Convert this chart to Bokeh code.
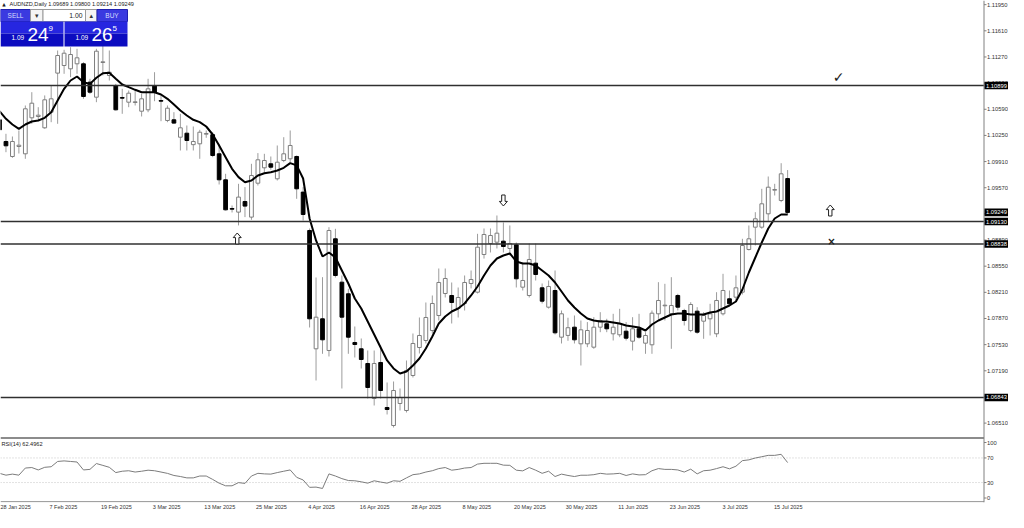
from bokeh.plotting import figure
from bokeh.models import Range1d, FixedTicker, ColumnDataSource
from bokeh.embed import file_html
from bokeh.resources import INLINE
from bokeh.core.properties import value

# ---------------- data ----------------
header_text = "AUDNZD,Daily 1.09689 1.09800 1.09214 1.09249"
rsi_title = "RSI(14) 62.4962"

date_labels = ["28 Jan 2025", "7 Feb 2025", "19 Feb 2025", "3 Mar 2025", "13 Mar 2025",
               "25 Mar 2025", "4 Apr 2025", "16 Apr 2025", "28 Apr 2025", "8 May 2025",
               "20 May 2025", "30 May 2025", "11 Jun 2025", "23 Jun 2025", "3 Jul 2025",
               "15 Jul 2025"]
date_label_bars = [0, 8, 16, 24, 32, 40, 48, 56, 64, 72, 80, 88, 96, 104, 112, 120]

opens = [1.10453, 1.10171, 1.09976, 1.10106, 1.10011, 1.10479, 1.10496, 1.10349, 1.10552, 1.11060,
         1.11159, 1.11116, 1.11181, 1.11181, 1.10942, 1.10747, 1.11198, 1.11029, 1.10899, 1.10743,
         1.10682, 1.10678, 1.10565, 1.10583, 1.10899, 1.10704, 1.10444, 1.10453, 1.10227, 1.10279,
         1.10130, 1.10141, 1.10266, 1.10260, 1.10011, 1.09673, 1.09300, 1.09253, 1.09391, 1.09188,
         1.09629, 1.09829, 1.09881, 1.09686, 1.09924, 1.09946, 1.09976, 1.09513, 1.09014, 1.07476,
         1.07866, 1.07454, 1.08906, 1.08342, 1.08191, 1.07558, 1.07476, 1.07285, 1.06830, 1.07298,
         1.06713, 1.06479, 1.06765, 1.06674, 1.07129, 1.07493, 1.07584, 1.07714, 1.07909, 1.08195,
         1.08169, 1.08000, 1.08065, 1.08325, 1.08212, 1.08702, 1.08845, 1.08862, 1.08875, 1.08780,
         1.08828, 1.08277, 1.08169, 1.08589, 1.08269, 1.08017, 1.08234, 1.07627, 1.07650, 1.07757,
         1.07541, 1.07541, 1.07497, 1.07757, 1.07801, 1.07671, 1.07658, 1.07705, 1.07575, 1.07736,
         1.07549, 1.07528, 1.07931, 1.08035, 1.07931, 1.08169, 1.07974, 1.07714, 1.07965, 1.07835,
         1.07866, 1.07671, 1.07931, 1.08126, 1.08147, 1.08212, 1.08767, 1.09057, 1.09057, 1.09231,
         1.09538, 1.09404, 1.09689]
highs = [1.10509, 1.10271, 1.10236, 1.10314, 1.10639, 1.10812, 1.10617, 1.10770, 1.10899, 1.11354,
         1.11363, 1.11397, 1.11376, 1.11202, 1.10986, 1.11376, 1.11419, 1.11354, 1.10920, 1.10856,
         1.10834, 1.10834, 1.10791, 1.10986, 1.11072, 1.10770, 1.10639, 1.10552, 1.10531, 1.10379,
         1.10366, 1.10323, 1.10314, 1.10290, 1.10141, 1.09751, 1.09339, 1.09621, 1.09578, 1.09881,
         1.10020, 1.10011, 1.09976, 1.10119, 1.10227, 1.10314, 1.09989, 1.09578, 1.09040, 1.08403,
         1.08407, 1.09057, 1.09036, 1.08429, 1.08256, 1.07766, 1.07610, 1.07454, 1.07454, 1.07519,
         1.07038, 1.07051, 1.06960, 1.07324, 1.07675, 1.07883, 1.08078, 1.08169, 1.08520, 1.08520,
         1.08338, 1.08273, 1.08429, 1.08494, 1.08971, 1.09040, 1.09040, 1.09209, 1.09118, 1.09079,
         1.08858, 1.08598, 1.08845, 1.08845, 1.08325, 1.08364, 1.08494, 1.07974, 1.07880, 1.07909,
         1.07844, 1.07823, 1.07887, 1.07952, 1.07866, 1.07931, 1.07996, 1.07823, 1.07887, 1.07931,
         1.07692, 1.07974, 1.08342, 1.08321, 1.08407, 1.08191, 1.07996, 1.08082, 1.08017, 1.07952,
         1.08061, 1.08212, 1.08451, 1.08234, 1.08429, 1.08906, 1.09079, 1.09252, 1.09556, 1.09716,
         1.09621, 1.09889, 1.09800]
lows = [1.10271, 1.10032, 1.09959, 1.10015, 1.09946, 1.10401, 1.10435, 1.10336, 1.10422, 1.10401,
        1.11051, 1.11007, 1.11051, 1.10726, 1.10790, 1.10682, 1.11029, 1.10964, 1.10574, 1.10531,
        1.10617, 1.10639, 1.10496, 1.10552, 1.10695, 1.10435, 1.10422, 1.10401, 1.10054, 1.10054,
        1.10054, 1.09946, 1.10219, 1.09967, 1.09612, 1.09274, 1.09248, 1.09080, 1.09188, 1.09153,
        1.09599, 1.09751, 1.09803, 1.09664, 1.09902, 1.09902, 1.09426, 1.09144, 1.07753, 1.07064,
        1.07411, 1.07376, 1.08403, 1.06960, 1.07411, 1.07363, 1.07220, 1.06830, 1.06739, 1.06830,
        1.06622, 1.06453, 1.06674, 1.06648, 1.07103, 1.07415, 1.07545, 1.07675, 1.07844, 1.08143,
        1.07805, 1.07883, 1.07974, 1.08261, 1.08195, 1.08649, 1.08728, 1.08780, 1.08728, 1.08689,
        1.08273, 1.08234, 1.08143, 1.08364, 1.08065, 1.07999, 1.07662, 1.07545, 1.07580, 1.07545,
        1.07259, 1.07497, 1.07476, 1.07692, 1.07692, 1.07584, 1.07627, 1.07584, 1.07454, 1.07606,
        1.07411, 1.07411, 1.07866, 1.07844, 1.07476, 1.07974, 1.07779, 1.07692, 1.07671, 1.07606,
        1.07649, 1.07627, 1.07909, 1.08039, 1.08104, 1.08182, 1.08754, 1.08819, 1.09036, 1.09135,
        1.09469, 1.09382, 1.09214]
closes = [1.10323, 1.10115, 1.10171, 1.10123, 1.10596, 1.10669, 1.10513, 1.10713, 1.10726, 1.11289,
          1.11319, 1.11302, 1.11259, 1.10756, 1.10812, 1.11345, 1.11207, 1.11072, 1.10583, 1.10734,
          1.10799, 1.10687, 1.10726, 1.10856, 1.10812, 1.10695, 1.10604, 1.10410, 1.10349, 1.10184,
          1.10171, 1.10292, 1.10275, 1.09989, 1.09673, 1.09283, 1.09291, 1.09448, 1.09331, 1.09729,
          1.09933, 1.09924, 1.09837, 1.09902, 1.10011, 1.10119, 1.09556, 1.09222, 1.07866, 1.07887,
          1.07593, 1.09014, 1.08429, 1.07887, 1.07627, 1.07532, 1.07337, 1.06973, 1.07285, 1.06934,
          1.06687, 1.06934, 1.06843, 1.07194, 1.07545, 1.07649, 1.07883, 1.08065, 1.08338, 1.08390,
          1.08078, 1.08143, 1.08338, 1.08377, 1.08797, 1.08962, 1.08949, 1.08979, 1.08806, 1.08845,
          1.08386, 1.08364, 1.08637, 1.08442, 1.08095, 1.08286, 1.07684, 1.07931, 1.07750, 1.07593,
          1.07723, 1.07714, 1.07757, 1.07844, 1.07736, 1.07757, 1.07801, 1.07614, 1.07736, 1.07627,
          1.07649, 1.07939, 1.08104, 1.08043, 1.08039, 1.08017, 1.07844, 1.08052, 1.07692, 1.07909,
          1.07931, 1.08104, 1.08234, 1.08061, 1.08269, 1.08819, 1.08906, 1.09166, 1.09361, 1.09577,
          1.09547, 1.09751, 1.09249]
ma_values = [1.10565, 1.10466, 1.10392, 1.10336, 1.10392, 1.10431, 1.10444, 1.10479, 1.10552, 1.10704,
             1.10856, 1.10964, 1.11016, 1.10942, 1.10920, 1.10999, 1.11059, 1.11064, 1.10986, 1.10912,
             1.10877, 1.10843, 1.10812, 1.10812, 1.10812, 1.10782, 1.10726, 1.10652, 1.10574, 1.10509,
             1.10453, 1.10423, 1.10366, 1.10262, 1.10119, 1.09967, 1.09816, 1.09708, 1.09642, 1.09664,
             1.09729, 1.09759, 1.09772, 1.09794, 1.09829, 1.09890, 1.09860, 1.09690, 1.09170, 1.08884,
             1.08676, 1.08728, 1.08663, 1.08494, 1.08325, 1.08130, 1.08000, 1.07831, 1.07662, 1.07493,
             1.07324, 1.07220, 1.07155, 1.07181, 1.07259, 1.07350, 1.07480, 1.07636, 1.07805, 1.07896,
             1.07961, 1.08000, 1.08065, 1.08169, 1.08286, 1.08429, 1.08559, 1.08650, 1.08689, 1.08715,
             1.08611, 1.08585, 1.08585, 1.08559, 1.08494, 1.08429, 1.08338, 1.08221, 1.08104, 1.08013,
             1.07935, 1.07870, 1.07844, 1.07831, 1.07831, 1.07818, 1.07805, 1.07779, 1.07766, 1.07753,
             1.07714, 1.07792, 1.07844, 1.07883, 1.07922, 1.07935, 1.07935, 1.07922, 1.07922, 1.07922,
             1.07948, 1.07961, 1.08000, 1.08039, 1.08091, 1.08247, 1.08468, 1.08663, 1.08858, 1.09040,
             1.09170, 1.09222, 1.09222]
rsi_values = [45.0, 42.0, 43.7, 42.0, 53.6, 54.4, 50.5, 54.8, 55.7, 64.3,
              65.2, 64.3, 63.4, 50.5, 51.4, 60.9, 57.9, 54.8, 46.2, 48.4,
              49.2, 47.1, 48.4, 50.1, 49.2, 47.1, 44.9, 41.5, 39.8, 37.6,
              37.6, 40.6, 40.6, 35.1, 29.0, 24.7, 24.7, 29.9, 28.6, 40.6,
              45.0, 44.1, 43.7, 46.2, 48.4, 50.5, 38.5, 34.2, 22.2, 22.6,
              20.4, 44.1, 40.6, 36.4, 33.3, 32.9, 31.2, 29.0, 32.9, 30.8,
              29.0, 32.9, 32.0, 37.6, 42.8, 44.1, 47.1, 49.2, 52.7, 54.4,
              50.1, 51.4, 53.6, 54.4, 60.0, 61.3, 61.3, 61.3, 58.3, 58.0,
              50.1, 49.0, 54.4, 50.1, 45.0, 48.4, 39.8, 43.7, 41.5, 39.8,
              41.9, 41.9, 42.8, 45.0, 43.7, 44.1, 45.0, 41.5, 44.1, 42.4,
              42.8, 49.2, 52.7, 51.4, 51.4, 50.5, 47.1, 51.8, 44.1, 49.2,
              50.1, 52.7, 55.7, 52.3, 56.6, 65.6, 66.9, 69.9, 72.0, 74.2,
              74.2, 75.9, 62.5]

levels = [1.10899, 1.09130, 1.08838, 1.06843]
price_ticks = [1.1195, 1.1161, 1.1127, 1.1093, 1.1059, 1.1025, 1.0991, 1.0957, 1.0923,
               1.0889, 1.0855, 1.0821, 1.0787, 1.0753, 1.0719, 1.0685, 1.0651]
rsi_levels = [70, 30]
rsi_axis_values = [100, 70, 30, 0]

arrow_dir = ["up", "down", "up"]
arrow_bar = [36.8, 78.0, 128.6]
arrow_price = [1.08910, 1.09404, 1.09274]
sign_text = ["\u2713", "\u00d7"]
sign_bar = [129.9, 128.8]
sign_price = [1.11016, 1.08871]

sell_parts = ["1.09", "24", "9"]
buy_parts = ["1.09", "26", "5"]
lot_text = "1.00"

# ---------------- geometry helpers (pixels -> data) ----------------
BAR_PX = 6.46
PX_PER_PRICE = 7692.0
AXIS_X = 983.5          # x of the price scale line
FRAME_B = 502.0         # bottom of the plotting frame
RSI_TOP, RSI_BOT = 439.0, 500.5
RSI_PX = (RSI_BOT - RSI_TOP) / 100.0


def rx(px):
    return (px + 1.0) / BAR_PX


def ry(py):
    return 1.10899 - (py - 85.0) / PX_PER_PRICE


def rsi_at(py):
    return (RSI_BOT - py) / RSI_PX


FONT = "Liberation Sans"

p = figure(width=1008, height=512,
           x_range=Range1d(rx(0), rx(1008)), y_range=Range1d(ry(FRAME_B), ry(0)),
           output_backend="svg", toolbar_location=None, y_axis_location=None,
           min_border_left=0, min_border_right=0, min_border_top=0, min_border_bottom=10)
p.extra_y_ranges = {"rsi": Range1d(rsi_at(FRAME_B), rsi_at(0))}
p.outline_line_color = None
p.grid.visible = False
p.background_fill_color = "white"
p.border_fill_color = "white"

XL, XR = rx(0), rx(AXIS_X)

# ---------------- candles ----------------
idx = list(range(len(opens)))
up = [c >= o for o, c in zip(opens, closes)]
src = ColumnDataSource(dict(
    x=idx,
    top=[max(o, c) for o, c in zip(opens, closes)],
    bottom=[min(o, c) for o, c in zip(opens, closes)],
    high=highs, low=lows,
    fill=["white" if u else "black" for u in up],
    line=["#7e7e7e" if u else "black" for u in up],
))
p.segment(x0="x", y0="high", x1="x", y1="low", source=src, line_color="#9c9c9c", line_width=1)
p.vbar(x="x", top="top", bottom="bottom", width=0.58, source=src,
       fill_color="fill", line_color="line", line_width=1)

# moving average
p.line(idx, ma_values, line_color="black", line_width=2)

# horizontal levels (stop at the price scale)
p.segment(x0=[XL] * len(levels), x1=[XR] * len(levels), y0=levels, y1=levels,
          line_color="#303030", line_width=1.5)

# pane separator and bottom border
p.segment(x0=[XL], x1=[XR], y0=[ry(437.6)], y1=[ry(437.6)], line_color="#8c8c8c", line_width=2)
p.segment(x0=[XL], x1=[XR], y0=[ry(FRAME_B - 0.8)], y1=[ry(FRAME_B - 0.8)],
          line_color="#8c8c8c", line_width=1)

# RSI
p.segment(x0=[XL] * 2, x1=[XR] * 2, y0=rsi_levels, y1=rsi_levels, y_range_name="rsi",
          line_color="#c4c4c4", line_dash="1 2", line_width=1)
p.line(idx, rsi_values, y_range_name="rsi", line_color="#7c7c7c", line_width=1)


# hollow arrows (Wingdings-like) drawn as polygons around each anchor
def arrow_shape(bx, pr, direction):
    hw, sw, hh, tot = 4.0, 1.7, 4.6, 11.0
    s = 1 if direction == "up" else -1
    pts = [(0, -s * tot / 2), (hw, -s * (tot / 2 - hh)), (sw, -s * (tot / 2 - hh)),
           (sw, s * tot / 2), (-sw, s * tot / 2), (-sw, -s * (tot / 2 - hh)),
           (-hw, -s * (tot / 2 - hh))]
    xs = [bx + dx / BAR_PX for dx, dy in pts]
    ys = [pr - dy / PX_PER_PRICE for dx, dy in pts]
    return xs, ys


axs, ays = [], []
for d, b, pr in zip(arrow_dir, arrow_bar, arrow_price):
    xs, ys = arrow_shape(b, pr, d)
    axs.append(xs)
    ays.append(ys)
p.patches(axs, ays, fill_color="white", line_color="#222222", line_width=1)

p.text(x=sign_bar, y=sign_price, text=sign_text, text_font=value("DejaVu Sans"),
       text_font_size=["14px", "10px"], text_font_style="bold", text_align="center",
       text_baseline="middle", text_color="#1a1a1a")

# ---------------- price scale (right) ----------------
p.segment(x0=[XR], x1=[XR], y0=[ry(0)], y1=[ry(FRAME_B)], line_color="#808080", line_width=1)
rsi_tick_pos = [ry(RSI_TOP + 3.0), ry(RSI_BOT - RSI_PX * 70), ry(RSI_BOT - RSI_PX * 30),
                ry(RSI_BOT - 3.0)]
all_ticks = price_ticks + rsi_tick_pos
all_tick_labels = [f"{t:.5f}" for t in price_ticks] + [str(v) for v in rsi_axis_values]
p.segment(x0=[XR] * len(all_ticks), x1=[rx(AXIS_X + 2.5)] * len(all_ticks),
          y0=all_ticks, y1=all_ticks, line_color="#808080", line_width=1)
p.text(x=[rx(AXIS_X + 3)] * len(all_ticks), y=all_ticks, text=all_tick_labels,
       text_font=value(FONT), text_font_size="5.8px", text_align="left",
       text_baseline="middle", text_color="#333333")

# highlighted prices (levels + last close) in black boxes
hl = levels + [closes[-1]]
p.quad(left=[rx(AXIS_X + 0.5)] * len(hl), right=[rx(1008)] * len(hl),
       top=[v + 3.8 / PX_PER_PRICE for v in hl], bottom=[v - 3.8 / PX_PER_PRICE for v in hl],
       fill_color="black", line_color=None)
p.text(x=[rx(AXIS_X + 2)] * len(hl), y=hl, text=[f"{v:.5f}" for v in hl],
       text_font=value(FONT), text_font_size="5.8px", text_align="left",
       text_baseline="middle", text_color="white")

# ---------------- time axis ----------------
xax = p.xaxis[0]
# labels are centred on ticks: put each tick at the centre of a label that starts at its bar
xt = [max(b + (-1.4 + 1.36 * len(lab)) / BAR_PX, XL + 0.01)
      for b, lab in zip(date_label_bars, date_labels)]
xax.ticker = FixedTicker(ticks=xt, minor_ticks=[])
xax.major_label_overrides = {t: lab for t, lab in zip(xt, date_labels)}
xax.axis_line_color = None
xax.major_tick_line_color = None
xax.major_tick_out = 0
xax.major_tick_in = 0
xax.major_label_standoff = 1
xax.major_label_text_font = FONT
xax.major_label_text_font_size = "5.5px"
xax.major_label_text_color = "#333333"

# ---------------- header & titles ----------------
p.text(x=[rx(3.5)], y=[ry(3.6)], text=["\u25b2"], text_font=value("DejaVu Sans"),
       text_font_size="4.5px", text_align="center", text_baseline="middle", text_color="#222222")
p.text(x=[rx(9)], y=[ry(3.8)], text=[header_text], text_font=value(FONT),
       text_font_size="5.6px", text_align="left", text_baseline="middle", text_color="#222222")
p.text(x=[rx(1)], y=[ry(443.5)], text=[rsi_title], text_font=value(FONT),
       text_font_size="5.6px", text_align="left", text_baseline="middle", text_color="#222222")


# ---------------- one-click trading panel ----------------
def box(x0, x1, y0, y1, fill, line=None):
    p.quad(left=[rx(x0)], right=[rx(x1)], top=[ry(y0)], bottom=[ry(y1)],
           fill_color=fill, line_color=line, line_width=1)


box(0, 30, 9, 21, "#3a3ae0", "#2020b0")
box(30, 42.5, 9, 21, "#f4f4f4", "#9a9a9a")
box(42.5, 85, 9, 21, "white", "#9a9a9a")
box(85, 96.5, 9, 21, "#f4f4f4", "#9a9a9a")
box(96.5, 127, 9, 21, "#3a3ae0", "#2020b0")
for (a, b) in [(0, 63), (64, 127)]:
    box(a, b, 21, 33, "#2626e0")
    box(a, b, 33, 46, "#0c0cc0")


def txt(x, y, s, size, color, align="center", font=FONT):
    p.text(x=[rx(x)], y=[ry(y)], text=[s], text_font=value(font), text_font_size=size,
           text_align=align, text_baseline="middle", text_color=color)


txt(15, 15, "SELL", "6.5px", "#d8dcff")
txt(111.5, 15, "BUY", "6.5px", "#d8dcff")
txt(36.2, 15, "\u25be", "7px", "#333333", font="DejaVu Sans")
txt(90.7, 15, "\u25b4", "7px", "#333333", font="DejaVu Sans")
txt(82, 15, lot_text, "6.8px", "#222222", align="right")

for base, parts in [(0, sell_parts), (64, buy_parts)]:
    txt(base + 11, 36.5, parts[0], "6.5px", "white", align="left")
    txt(base + 27, 34.0, parts[1], "19px", "white", align="left")
    txt(base + 48, 27.5, parts[2], "8px", "white", align="left")

open("out.html", "w").write(file_html(p, INLINE))
